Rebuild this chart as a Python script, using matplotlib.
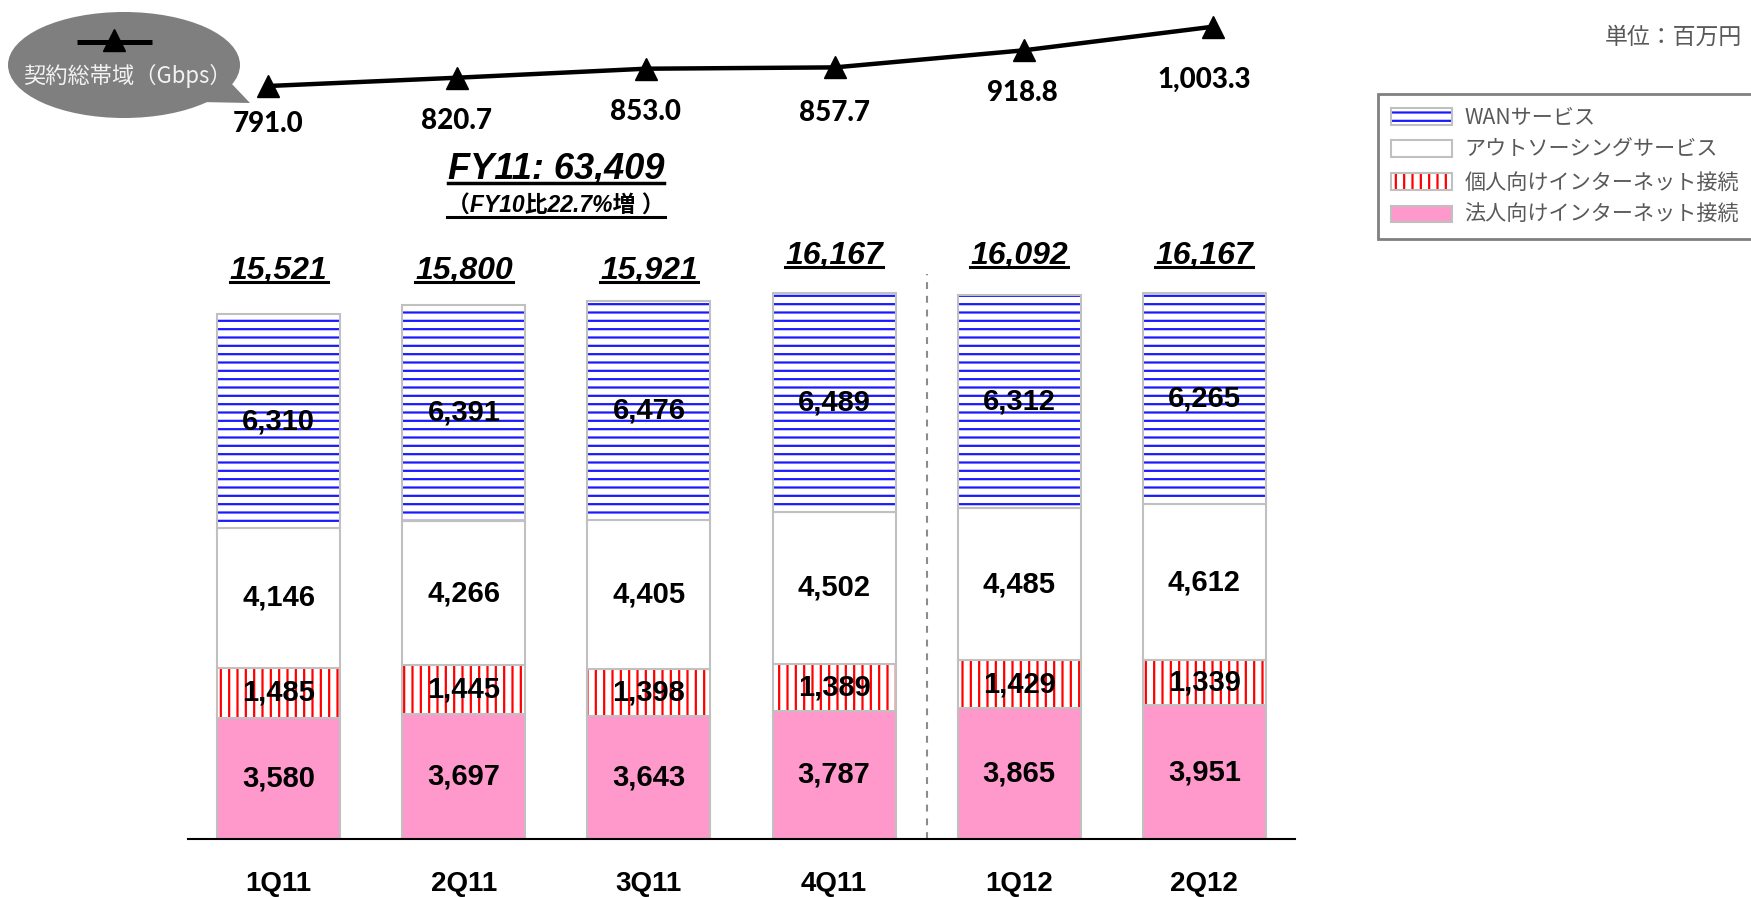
import numpy as np
import matplotlib
matplotlib.use('Agg')
import matplotlib.pyplot as plt
from matplotlib.patches import Patch, Ellipse, Polygon
from matplotlib.legend_handler import HandlerTuple
from matplotlib.lines import Line2D

plt.rcParams['font.family'] = ['Liberation Sans', 'Noto Sans CJK JP', 'DejaVu Sans']
plt.rcParams['hatch.linewidth'] = 1.6

# データ
quarters = ['1Q11', '2Q11', '3Q11', '4Q11', '1Q12', '2Q12']
corp = [3580, 3697, 3643, 3787, 3865, 3951]          # 法人向けインターネット接続
personal = [1485, 1445, 1398, 1389, 1429, 1339]      # 個人向けインターネット接続
outsourcing = [4146, 4266, 4405, 4502, 4485, 4612]   # アウトソーシングサービス
wan = [6310, 6391, 6476, 6489, 6312, 6265]           # WANサービス
totals = [15521, 15800, 15921, 16167, 16092, 16167]
bandwidth = [791.0, 820.7, 853.0, 857.7, 918.8, 1003.3]  # 契約総帯域(Gbps)

series = [
    ('法人向けインターネット接続', corp, '#ff99cc', None, '#ff99cc'),
    ('個人向けインターネット接続', personal, 'white', '||', '#ff0000'),
    ('アウトソーシングサービス', outsourcing, 'white', None, 'white'),
    ('WANサービス', wan, 'white', '--', '#1a1aff'),
]

W, H = 1751, 897
fig = plt.figure(figsize=(W / 100, H / 100), dpi=100)

# 吹き出し用 (ピクセル座標)
axc = fig.add_axes([0, 0, 1, 1], frameon=False)
axc.set_xlim(0, W)
axc.set_ylim(H, 0)
axc.axis('off')
axc.add_patch(Ellipse((124, 65), 232, 106, color='#7f7f7f', lw=0))
axc.add_patch(Polygon([(200, 102), (230, 82), (250, 103)], closed=True, color='#7f7f7f', lw=0))
axc.plot([77, 152], [42, 42], color='black', lw=3.6, solid_capstyle='butt')
axc.plot([114], [40], marker='^', color='black', ms=16)
axc.text(127, 76, '契約総帯域（Gbps）', color='#f2f2f2', fontsize=16,
         ha='center', va='center', family=['Noto Sans CJK JP', 'DejaVu Sans'])

ax = fig.add_axes([188 / W, 58 / H, 1107 / W, 839 / H])
ax.patch.set_visible(False)
x = np.arange(len(quarters))
bw = 0.665
bottom = np.zeros(len(quarters))
handles = []
for name, vals, face, hatch, hcol in series:
    ax.bar(x, vals, bw, bottom=bottom, color=face, hatch=hatch, edgecolor=hcol, linewidth=0)
    ax.bar(x, vals, bw, bottom=bottom, fill=False, edgecolor='#c0c0c0', linewidth=1.5)
    for xi, v, b in zip(x, vals, bottom):
        ax.text(xi, b + v / 2, f'{v:,}', ha='center', va='center',
                fontsize=21, fontweight='bold')
    bottom += np.array(vals)
    handles.append(((Patch(facecolor=face, edgecolor=hcol, hatch=hatch, lw=0),
                     Patch(fill=False, edgecolor='#c0c0c0', lw=1.5)), name))

ax.set_xlim(-0.49, 5.49)
ax.set_ylim(0, 24822)
for s in ['top', 'right', 'left']:
    ax.spines[s].set_visible(False)
ax.spines['bottom'].set_linewidth(1.5)
ax.set_yticks([])
ax.set_xticks(x)
ax.set_xticklabels(quarters, fontsize=20, fontweight='bold')
ax.tick_params(axis='x', length=0, pad=23)

# 期の区切り
ax.vlines(3.5, 0, max(totals) * 1.034, colors='#8c8c8c', linestyles=(0, (3.3, 3.3)), lw=1.5)

# 合計ラベル
underline = []
total_y = [0.6679, 0.6679, 0.6679, 0.6858, 0.6858, 0.6858]
for xi, t, ty in zip(x, totals, total_y):
    tt = ax.text(xi, ty, f'{t:,}', transform=ax.get_xaxis_transform(),
                 ha='center', va='baseline', fontsize=23, fontweight='bold', style='italic')
    underline.append((tt, 3.5, 2.2))

t1 = fig.text(556 / W, 1 - 179 / H, 'FY11: 63,409', ha='center', va='baseline',
              fontsize=26, fontweight='bold', style='italic')
t2 = fig.text(556 / W, 1 - 213 / H, '（FY10比22.7%増 ）', ha='center', va='baseline',
              fontsize=16.5, fontweight='bold', style='italic')
underline.append((t1, 4.5, 2.5))
underline.append((t2, 4.0, 2.2))

# 契約総帯域の折れ線
ax2 = fig.add_axes(ax.get_position(), frameon=False)
ax2.set_xlim(-0.423, 5.435)
ax2.set_ylim(-1905, 1099)
ax2.axis('off')
ax2.plot(x, bandwidth, color='black', lw=3.2, marker='^', ms=16, clip_on=False)
label_off = [(0, -27), (0, -31), (0, -31), (0, -33), (-1, -31), (-6, -38)]
for xi, v, off in zip(x, bandwidth, label_off):
    ax2.annotate(f'{v:,.1f}', (xi, v), xytext=off, textcoords='offset points',
                 ha='center', va='center', fontsize=20, fontweight=900,
                 family=['Lato', 'DejaVu Sans'], annotation_clip=False)

# 凡例
leg = fig.legend([h for h, _ in handles[::-1]], [n for _, n in handles[::-1]],
                 handler_map={tuple: HandlerTuple(ndivide=1, pad=0)},
                 loc='upper left', bbox_to_anchor=(1378 / W, 1 - 94 / H), borderaxespad=0,
                 labelcolor='#595959', handlelength=2.9, handleheight=0.85,
                 handletextpad=0.6, labelspacing=0.5, borderpad=0.6,
                 fancybox=False, edgecolor='#808080', framealpha=1,
                 prop={'family': ['Noto Sans CJK JP', 'DejaVu Sans'], 'size': 15.2})
leg.get_frame().set_linewidth(2)

fig.text(1742 / W, 1 - 37 / H, '単位：百万円', ha='right', va='center', fontsize=16.5,
         color='#595959', family=['Noto Sans CJK JP', 'DejaVu Sans'])

# 下線
fig.canvas.draw()
r = fig.canvas.get_renderer()
for t, off, lw in underline:
    bb = t.get_window_extent(r)
    yb = t.get_transform().transform(t.get_position())[1] - off
    fig.add_artist(Line2D([bb.x0 / W, bb.x1 / W], [yb / H, yb / H], color='black',
                          lw=lw, transform=fig.transFigure))

fig.savefig('out.png', dpi=100)
